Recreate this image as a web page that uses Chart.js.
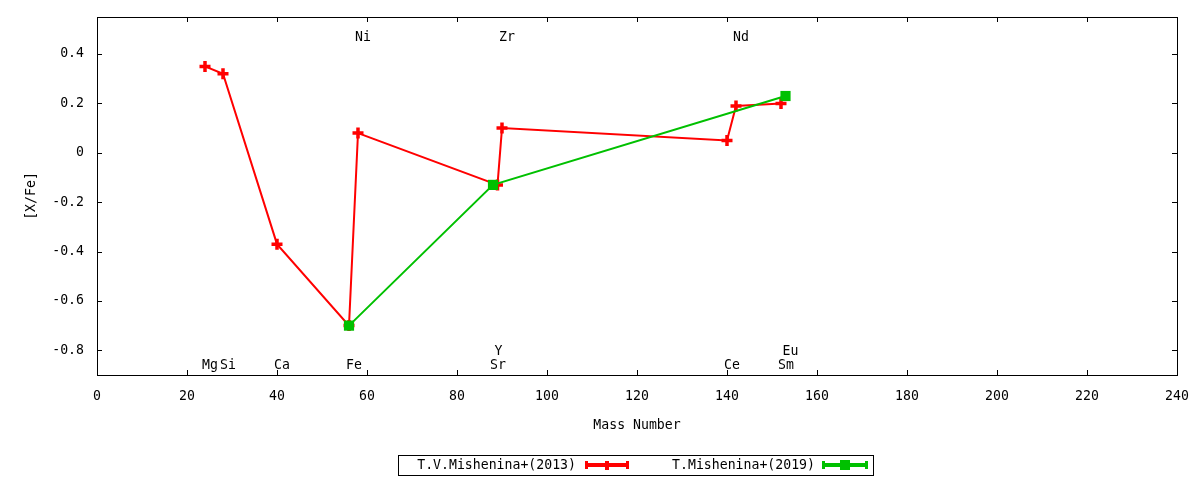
<!DOCTYPE html>
<html>
<head>
<meta charset="utf-8">
<title>[X/Fe] vs Mass Number</title>
<script src="https://cdn.jsdelivr.net/npm/chart.js@4.4.0/dist/chart.umd.min.js"></script>
<style>
  html, body { margin: 0; padding: 0; background: #fff; }
  #wrap { width: 1200px; height: 480px; }
</style>
</head>
<body>
<div id="wrap"><canvas id="chart" width="1200" height="480"></canvas></div>
<script>
// T.V.Mishenina+(2013)
const mass2013 = [24, 28, 40, 56, 58, 89, 90, 140, 142, 152];
const xfe2013  = [0.35, 0.32, -0.37, -0.70, 0.08, -0.13, 0.10, 0.05, 0.19, 0.20];

// T.Mishenina+(2019)
const mass2019 = [56, 88, 153];
const xfe2019  = [-0.70, -0.13, 0.23];

// element labels (name, mass number, height in [X/Fe] units)
const elemNames = ['Mg', 'Si', 'Ca', 'Fe', 'Ni', 'Sr', 'Y', 'Zr', 'Ce', 'Nd', 'Sm', 'Eu'];
const elemMass  = [24, 28, 40, 56, 58, 88, 89, 90, 140, 142, 152, 153];
const elemLevel = [-0.86, -0.86, -0.86, -0.86, 0.465, -0.86, -0.805, 0.465, -0.86, 0.465, -0.86, -0.805];

// axis ticks
const xTicks = [0, 20, 40, 60, 80, 100, 120, 140, 160, 180, 200, 220, 240];
const yTicks = [-0.8, -0.6, -0.4, -0.2, 0, 0.2, 0.4];

const seriesNames = ['T.V.Mishenina+(2013)', 'T.Mishenina+(2019)'];

const RED = '#ff0000';
const GREEN = '#00c000';
const FONT = "'DejaVu Sans Mono', monospace";
const FSIZE = 13.2;

const toPoints = (xs, ys) => xs.map((x, i) => ({ x: x, y: ys[i] }));

// frame, inward ticks, element names and the boxed key, gnuplot style
const gnuFrame = {
    id: 'gnuFrame',
    afterDatasetsDraw(chart) {
        const ctx = chart.ctx;
        const a = chart.chartArea;
        const xs = chart.scales.x;
        const ys = chart.scales.y;
        ctx.save();

        // element names
        ctx.font = FSIZE + 'px ' + FONT;
        ctx.fillStyle = '#000';
        ctx.textAlign = 'left';
        ctx.textBaseline = 'middle';
        elemNames.forEach((n, i) => {
            ctx.fillText(n, xs.getPixelForValue(elemMass[i]) - 3, ys.getPixelForValue(elemLevel[i]));
        });

        // border
        ctx.strokeStyle = '#000';
        ctx.lineWidth = 1;
        ctx.strokeRect(Math.round(a.left) + 0.5, Math.round(a.top) + 0.5,
            Math.round(a.right - a.left), Math.round(a.bottom - a.top));

        // tick marks on all four sides, pointing in
        const tl = 5;
        ctx.beginPath();
        xTicks.forEach(v => {
            const px = Math.round(xs.getPixelForValue(v)) + 0.5;
            ctx.moveTo(px, a.bottom); ctx.lineTo(px, a.bottom - tl);
            ctx.moveTo(px, a.top); ctx.lineTo(px, a.top + tl);
        });
        yTicks.forEach(v => {
            const py = Math.round(ys.getPixelForValue(v)) + 0.5;
            ctx.moveTo(a.left, py); ctx.lineTo(a.left + tl, py);
            ctx.moveTo(a.right, py); ctx.lineTo(a.right - tl, py);
        });
        ctx.stroke();

        // key
        ctx.strokeRect(398.5, 455.5, 475, 20);
        ctx.textAlign = 'right';
        ctx.fillText(seriesNames[0], 576, 466);
        ctx.fillText(seriesNames[1], 815, 466);

        const sample = (x0, x1, y, col) => {
            ctx.strokeStyle = col;
            ctx.fillStyle = col;
            ctx.lineWidth = 4;
            ctx.beginPath();
            ctx.moveTo(x0, y); ctx.lineTo(x1, y);
            ctx.stroke();
            ctx.fillRect(x0 - 1, y - 4, 3, 8);
            ctx.fillRect(x1 - 2, y - 4, 3, 8);
        };
        sample(586, 628, 465, RED);
        ctx.fillRect(605, 461, 4, 9);
        sample(823, 867, 465, GREEN);
        ctx.fillRect(840, 460, 10, 10);

        ctx.restore();
    }
};

new Chart(document.getElementById('chart').getContext('2d'), {
    type: 'line',
    data: {
        datasets: [
            {
                label: seriesNames[0],
                data: toPoints(mass2013, xfe2013),
                borderColor: RED,
                backgroundColor: RED,
                borderWidth: 2,
                pointStyle: 'cross',
                pointRadius: 5.5,
                pointBorderWidth: 3.5,
                pointBorderColor: RED,
                tension: 0,
                order: 1
            },
            {
                label: seriesNames[1],
                data: toPoints(mass2019, xfe2019),
                borderColor: GREEN,
                backgroundColor: GREEN,
                borderWidth: 2,
                pointStyle: 'rect',
                pointRadius: 7.2,
                pointBorderWidth: 0,
                pointBackgroundColor: GREEN,
                tension: 0,
                order: 0
            }
        ]
    },
    options: {
        responsive: false,
        animation: false,
        devicePixelRatio: 1,
        layout: { padding: { left: 24, right: 23, top: 17, bottom: 47 } },
        plugins: {
            legend: { display: false },
            tooltip: { enabled: false }
        },
        scales: {
            x: {
                type: 'linear',
                min: 0,
                max: 240,
                // invisible tick length only pushes the labels down
                grid: { display: false, drawTicks: true, tickLength: 14 },
                border: { display: false },
                afterBuildTicks: s => { s.ticks = xTicks.map(v => ({ value: v })); },
                afterFit: s => { s.height = 58; },
                ticks: {
                    color: '#000',
                    padding: 0,
                    maxRotation: 0,
                    font: { family: FONT, size: FSIZE }
                },
                title: {
                    display: true,
                    text: 'Mass Number',
                    color: '#000',
                    padding: { top: 0, bottom: 0 },
                    font: { family: FONT, size: FSIZE }
                }
            },
            y: {
                type: 'linear',
                min: -0.9,
                max: 0.55,
                grid: { display: false, drawTicks: true, tickLength: 13 },
                border: { display: false },
                afterBuildTicks: s => { s.ticks = yTicks.map(v => ({ value: v })); },
                afterFit: s => { s.width = 73; },
                ticks: {
                    color: '#000',
                    padding: 0,
                    callback: v => String(Math.round(v * 10) / 10),
                    font: { family: FONT, size: FSIZE }
                },
                title: {
                    display: true,
                    text: '[X/Fe]',
                    color: '#000',
                    padding: { top: 0, bottom: 0 },
                    font: { family: FONT, size: FSIZE }
                }
            }
        }
    },
    plugins: [gnuFrame]
});
</script>
</body>
</html>
